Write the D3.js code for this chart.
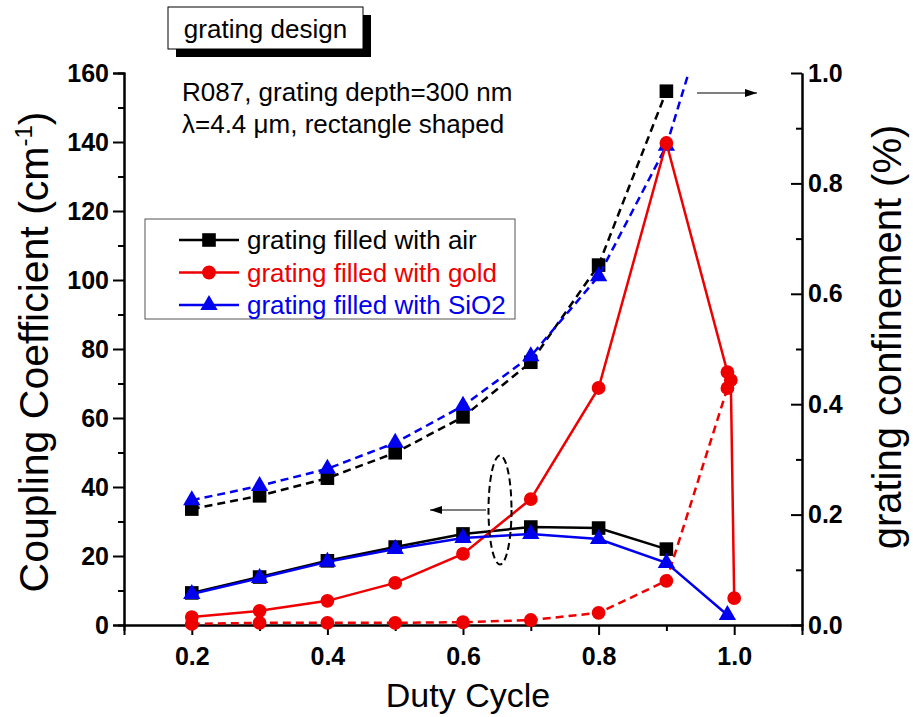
<!DOCTYPE html>
<html>
<head>
<meta charset="utf-8">
<script src="https://cdn.jsdelivr.net/npm/d3@7"></script>
<style>
  body { margin: 0; background: #fff; }
  svg { display: block; }
  text { font-family: Arial, "Liberation Sans", sans-serif; }
</style>
</head>
<body>
<svg id="chart" width="913" height="717"></svg>
<script>
// Duty cycle positions of the simulated gratings
const dutyCycle = [0.2, 0.3, 0.4, 0.5, 0.6, 0.7, 0.8, 0.9];

// Coupling coefficient (cm^-1), left axis
const couplingAirX = dutyCycle;
const couplingAir = [9.3, 13.9, 18.6, 22.6, 26.4, 28.4, 28.1, 22.0];
const couplingGoldX = [0.2, 0.3, 0.4, 0.5, 0.6, 0.7, 0.8, 0.9, 0.99, 0.995, 1.0];
const couplingGold = [2.3, 4.1, 7.0, 12.2, 20.6, 36.5, 68.7, 139.7, 73.3, 71.0, 7.8];
const couplingSiO2X = [0.2, 0.3, 0.4, 0.5, 0.6, 0.7, 0.8, 0.9, 0.99];
const couplingSiO2 = [9.0, 13.6, 18.3, 22.0, 25.2, 26.4, 24.9, 18.0, 2.9];

// Grating confinement (%), right axis
const confinementAirX = dutyCycle;
const confinementAir = [0.210, 0.234, 0.266, 0.312, 0.377, 0.476, 0.652, 0.967];
const confinementGoldX = [0.2, 0.3, 0.4, 0.5, 0.6, 0.7, 0.8, 0.9, 0.99];
const confinementGold = [0.002, 0.004, 0.004, 0.004, 0.005, 0.009, 0.022, 0.080, 0.429];
const confinementSiO2X = [0.2, 0.3, 0.4, 0.5, 0.6, 0.7, 0.8, 0.9, 0.95];
const confinementSiO2 = [0.226, 0.252, 0.283, 0.330, 0.397, 0.487, 0.632, 0.868, 1.07];

// Tick values
const xMajorTicks = [0.2, 0.4, 0.6, 0.8, 1.0];
const xMinorTicks = [0.3, 0.5, 0.7, 0.9];
const yLeftMajorTicks = [0, 20, 40, 60, 80, 100, 120, 140, 160];
const yLeftMinorTicks = [10, 30, 50, 70, 90, 110, 130, 150];
const yRightMajorTicks = [0.0, 0.2, 0.4, 0.6, 0.8, 1.0];
const yRightMinorTicks = [0.1, 0.3, 0.5, 0.7, 0.9];

// Series names and colours
const seriesNames = ["grating filled with air", "grating filled with gold", "grating filled with SiO2"];
const seriesColors = ["#000000", "#ee0000", "#0000ee"];
const seriesSymbols = [d3.symbolSquare, d3.symbolCircle, d3.symbolTriangle];
const symbolSizes = [185, 150, 130];

const svg = d3.select("#chart");
const plotLeft = 124, plotRight = 802, plotTop = 73, plotBottom = 625;

const x = d3.scaleLinear().domain([0.1, 1.1]).range([plotLeft, plotRight]);
const yL = d3.scaleLinear().domain([0, 160]).range([plotBottom, plotTop]);
const yR = d3.scaleLinear().domain([0, 1]).range([plotBottom, plotTop]);

const defs = svg.append("defs");
defs.append("clipPath").attr("id", "plotClip")
  .append("rect").attr("x", plotLeft).attr("y", plotTop)
  .attr("width", plotRight - plotLeft).attr("height", plotBottom - plotTop + 10);

// Arrow head marker
defs.append("marker")
  .attr("id", "arrowHead").attr("viewBox", "0 0 12 8")
  .attr("refX", 12).attr("refY", 4)
  .attr("markerWidth", 12).attr("markerHeight", 8)
  .attr("markerUnits", "userSpaceOnUse").attr("orient", "auto")
  .append("path").attr("d", "M0,0 L12,4 L0,8 Z").attr("fill", "#000");

// ---- Axes ----
function styleAxis(g) {
  g.selectAll("path.domain").attr("stroke", "#000").attr("stroke-width", 2);
  g.selectAll(".tick line").attr("stroke", "#000").attr("stroke-width", 2);
  g.selectAll("text").attr("font-size", 25).attr("font-weight", "bold")
    .attr("fill", "#000").style("font-family", "Arial, 'Liberation Sans', sans-serif");
}

// bottom
svg.append("g").attr("transform", `translate(0,${plotBottom})`)
  .call(d3.axisBottom(x).tickValues(xMinorTicks).tickSize(6).tickFormat(""))
  .call(styleAxis);
svg.append("g").attr("transform", `translate(0,${plotBottom})`)
  .call(d3.axisBottom(x).tickValues(xMajorTicks).tickSize(10).tickPadding(12)
        .tickFormat(d3.format(".1f")))
  .call(styleAxis);

// left
svg.append("g").attr("transform", `translate(${plotLeft},0)`)
  .call(d3.axisLeft(yL).tickValues(yLeftMinorTicks).tickSize(6).tickFormat(""))
  .call(styleAxis);
svg.append("g").attr("transform", `translate(${plotLeft},0)`)
  .call(d3.axisLeft(yL).tickValues(yLeftMajorTicks).tickSize(11).tickPadding(4)
        .tickFormat(d3.format("d")))
  .call(styleAxis);

// right (ticks point inward)
svg.append("g").attr("transform", `translate(${plotRight},0)`)
  .call(d3.axisRight(yR).tickValues(yRightMinorTicks).tickSizeInner(-6).tickSizeOuter(0).tickFormat(""))
  .call(styleAxis);
svg.append("g").attr("transform", `translate(${plotRight},0)`)
  .call(d3.axisRight(yR).tickValues(yRightMajorTicks).tickSizeInner(-11).tickSizeOuter(0)
        .tickPadding(6).tickFormat(d3.format(".1f")))
  .call(styleAxis);

// Axis titles
svg.append("text")
  .attr("transform", "translate(48,352) rotate(-90)")
  .attr("text-anchor", "middle").attr("font-size", 41)
  .call(t => {
    t.append("tspan").text("Coupling Coefficient (cm");
    t.append("tspan").attr("font-size", 24).attr("dy", -16).text("-1");
    t.append("tspan").attr("dy", 16).text(")");
  });
svg.append("text")
  .attr("transform", "translate(901,337) rotate(-90)")
  .attr("text-anchor", "middle").attr("font-size", 40)
  .text("grating confinement (%)");
svg.append("text")
  .attr("x", 468).attr("y", 707)
  .attr("text-anchor", "middle").attr("font-size", 34)
  .text("Duty Cycle");

// ---- Data ----
const plot = svg.append("g").attr("clip-path", "url(#plotClip)");

const series = [
  { xs: confinementAirX, ys: confinementAir, scale: yR, dashed: true, idx: 0 },
  { xs: confinementGoldX, ys: confinementGold, scale: yR, dashed: true, idx: 1 },
  { xs: confinementSiO2X, ys: confinementSiO2, scale: yR, dashed: true, idx: 2 },
  { xs: couplingAirX, ys: couplingAir, scale: yL, dashed: false, idx: 0 },
  { xs: couplingGoldX, ys: couplingGold, scale: yL, dashed: false, idx: 1 },
  { xs: couplingSiO2X, ys: couplingSiO2, scale: yL, dashed: false, idx: 2 }
];

series.forEach(s => {
  const pts = s.xs.map((d, i) => [d, s.ys[i]]);
  const line = d3.line().x(d => x(d[0])).y(d => s.scale(d[1]));
  plot.append("path")
    .attr("d", line(pts))
    .attr("fill", "none")
    .attr("stroke", seriesColors[s.idx])
    .attr("stroke-width", 2.5)
    .attr("stroke-dasharray", s.dashed ? "8,5" : null);
  plot.selectAll(null).data(pts).enter().append("path")
    .attr("transform", d => `translate(${x(d[0])},${s.scale(d[1])})`)
    .attr("d", d3.symbol().type(seriesSymbols[s.idx]).size(symbolSizes[s.idx]))
    .attr("fill", seriesColors[s.idx]);
});

// ---- Annotations ----
// dashed ellipse around the coupling curves with arrow to the left axis
svg.append("ellipse")
  .attr("cx", 500).attr("cy", 510).attr("rx", 11.5).attr("ry", 54.5)
  .attr("fill", "none").attr("stroke", "#000")
  .attr("stroke-width", 2).attr("stroke-dasharray", "7,4");
svg.append("line")
  .attr("x1", 486).attr("y1", 510).attr("x2", 430).attr("y2", 510)
  .attr("stroke", "#000").attr("stroke-width", 1.2)
  .attr("marker-end", "url(#arrowHead)");
// arrow to the right axis
svg.append("line")
  .attr("x1", 697).attr("y1", 93).attr("x2", 757).attr("y2", 93)
  .attr("stroke", "#000").attr("stroke-width", 1.2)
  .attr("marker-end", "url(#arrowHead)");

// Sample description
svg.append("text").attr("x", 182).attr("y", 101).attr("font-size", 26)
  .text("R087, grating depth=300 nm");
svg.append("text").attr("x", 182).attr("y", 133).attr("font-size", 26)
  .text("λ=4.4 μm, rectangle shaped");

// Title box with drop shadow
svg.append("rect").attr("x", 176).attr("y", 15).attr("width", 195).attr("height", 42).attr("fill", "#000");
svg.append("rect").attr("x", 168).attr("y", 7).attr("width", 195).attr("height", 42)
  .attr("fill", "#fff").attr("stroke", "#000").attr("stroke-width", 1);
svg.append("text").attr("x", 265.5).attr("y", 38).attr("text-anchor", "middle")
  .attr("font-size", 26).text("grating design");

// ---- Legend ----
const legend = svg.append("g");
legend.append("rect").attr("x", 145).attr("y", 219).attr("width", 370).attr("height", 100)
  .attr("fill", "#fff").attr("stroke", "#555").attr("stroke-width", 1);
seriesNames.forEach((name, i) => {
  const cy = 240 + i * 32.5;
  legend.append("line").attr("x1", 179).attr("x2", 239).attr("y1", cy).attr("y2", cy)
    .attr("stroke", seriesColors[i]).attr("stroke-width", 2.5);
  legend.append("path").attr("transform", `translate(209,${cy})`)
    .attr("d", d3.symbol().type(seriesSymbols[i]).size(symbolSizes[i]))
    .attr("fill", seriesColors[i]);
  legend.append("text").attr("x", 247).attr("y", cy + 9).attr("font-size", 26)
    .attr("fill", seriesColors[i]).text(name);
});
</script>
</body>
</html>
